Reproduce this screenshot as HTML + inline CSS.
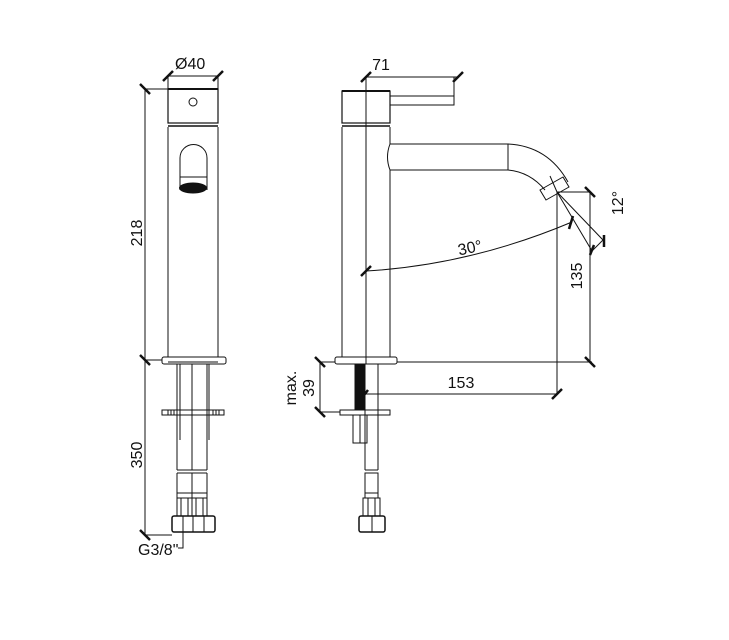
<!DOCTYPE html>
<html><head><style>
body{margin:0;background:#fff;}
svg{display:block;}
text{font-family:"Liberation Sans",sans-serif;font-size:16px;fill:#111;}
</style></head><body>
<svg width="729" height="640" viewBox="0 0 729 640" xmlns="http://www.w3.org/2000/svg">
<g fill="none" stroke="#111" stroke-width="1">
<rect x="168" y="89" width="50" height="34" stroke-width="1.2"/>
<line x1="168" y1="89" x2="218" y2="89" stroke-width="2"/>
<line x1="168" y1="126" x2="218" y2="126" stroke-width="1.5"/>
<line x1="168" y1="127" x2="168" y2="357"/>
<line x1="218" y1="127" x2="218" y2="357"/>
<circle cx="193" cy="102" r="4"/>
<path d="M180,190 V158 A13.5,13.5 0 0 1 207,158 V190"/>
<line x1="180" y1="177" x2="207" y2="177"/>
<ellipse cx="193" cy="188" rx="13.5" ry="5" fill="#111"/>
<rect x="162" y="357" width="64" height="7" rx="2"/>
<line x1="168" y1="362" x2="218" y2="362"/>
<line x1="177" y1="364" x2="177" y2="470"/><line x1="192" y1="364" x2="192" y2="470"/><line x1="207" y1="364" x2="207" y2="470"/>
<line x1="177" y1="470" x2="207" y2="470"/>
<line x1="177" y1="473" x2="207" y2="473"/>
<line x1="177" y1="473" x2="177" y2="493"/><line x1="192" y1="473" x2="192" y2="493"/><line x1="207" y1="473" x2="207" y2="493"/>
<line x1="180" y1="364" x2="180" y2="440"/><line x1="209" y1="364" x2="209" y2="440"/>
<rect x="162" y="410" width="62" height="5"/>
<line x1="168" y1="410" x2="168" y2="415"/><line x1="171" y1="410" x2="171" y2="415"/><line x1="174" y1="410" x2="174" y2="415"/>
<line x1="213" y1="410" x2="213" y2="415"/><line x1="216" y1="410" x2="216" y2="415"/><line x1="219" y1="410" x2="219" y2="415"/>
<rect x="177" y="493" width="15" height="5"/><rect x="192" y="493" width="15" height="5"/>
<rect x="177" y="498" width="15" height="18"/><rect x="192" y="498" width="15" height="18"/>
<line x1="181" y1="498" x2="181" y2="516"/><line x1="188" y1="498" x2="188" y2="516"/>
<line x1="196" y1="498" x2="196" y2="516"/><line x1="203" y1="498" x2="203" y2="516"/>
<rect x="172" y="516" width="43" height="16" rx="2" stroke-width="1.5"/>
<line x1="183" y1="516" x2="183" y2="532"/><line x1="193" y1="516" x2="193" y2="532"/><line x1="204" y1="516" x2="204" y2="532"/>
<line x1="168" y1="76" x2="218" y2="76"/>
<line x1="168" y1="76" x2="168" y2="89"/><line x1="218" y1="76" x2="218" y2="89"/>
<line x1="145" y1="89" x2="168" y2="89"/>
<line x1="145" y1="89" x2="145" y2="535"/>
<line x1="145" y1="360" x2="162" y2="360"/>
<line x1="145" y1="535" x2="172" y2="535"/>
<polyline points="183,532 183,548 178,548"/>
<rect x="342" y="91" width="48" height="32" stroke-width="1.2"/>
<line x1="342" y1="91" x2="390" y2="91" stroke-width="2"/>
<line x1="342" y1="126" x2="390" y2="126" stroke-width="1.5"/>
<line x1="342" y1="127" x2="342" y2="357"/>
<line x1="390" y1="127" x2="390" y2="144"/>
<line x1="390" y1="170" x2="390" y2="357"/>
<rect x="390" y="96" width="64" height="9"/>
<path d="M390,144 Q385,157 390,170"/>
<line x1="390" y1="144" x2="508" y2="144"/>
<line x1="390" y1="170" x2="508" y2="170"/>
<line x1="508" y1="144" x2="508" y2="170"/>
<path d="M508,144 Q548,146 568,182"/>
<path d="M508,170 Q530,172 545,190"/>
<polygon points="540,190 563,177 569,187 546,200"/>
<line x1="550" y1="176" x2="557" y2="192"/>
<rect x="335" y="357" width="62" height="7" rx="2"/>
<line x1="366" y1="77" x2="366" y2="364"/>
<rect x="355" y="364" width="10" height="46" fill="#111"/>
<line x1="378" y1="364" x2="378" y2="470"/>
<line x1="365" y1="410" x2="365" y2="470"/>
<rect x="340" y="410" width="50" height="5"/>
<rect x="353" y="415" width="14" height="28"/>
<line x1="360" y1="415" x2="360" y2="443"/>
<line x1="365" y1="470" x2="378" y2="470"/>
<rect x="365" y="473" width="13" height="20"/>
<rect x="365" y="493" width="13" height="5"/>
<rect x="363" y="498" width="17" height="18"/>
<line x1="368" y1="498" x2="368" y2="516"/><line x1="375" y1="498" x2="375" y2="516"/>
<rect x="359" y="516" width="26" height="16" rx="2" stroke-width="1.5"/>
<line x1="372" y1="516" x2="372" y2="532"/>
<line x1="366" y1="77" x2="458" y2="77"/>
<line x1="454" y1="77" x2="454" y2="96"/>
<path d="M366,271 Q470,265 572,222"/>
<line x1="557" y1="192" x2="557" y2="395"/>
<line x1="557" y1="192" x2="590" y2="192"/>
<line x1="590" y1="192" x2="590" y2="362"/>
<line x1="397" y1="362" x2="592" y2="362"/>
<line x1="557" y1="192" x2="592" y2="251"/>
<line x1="557" y1="192" x2="603" y2="240"/>
<line x1="592" y1="251" x2="603" y2="240"/>
<line x1="366" y1="394" x2="557" y2="394"/>
<line x1="320" y1="362" x2="335" y2="362"/>
<line x1="320" y1="412" x2="340" y2="412"/>
<line x1="320" y1="362" x2="320" y2="412"/>
</g>
<g stroke="#111" stroke-width="2.5">
<line x1="163" y1="81" x2="173" y2="71"/><line x1="213" y1="81" x2="223" y2="71"/>
<line x1="140" y1="84" x2="150" y2="94"/><line x1="140" y1="355" x2="150" y2="365"/>
<line x1="140" y1="530" x2="150" y2="540"/>
<line x1="361" y1="82" x2="371" y2="72"/><line x1="453" y1="82" x2="463" y2="72"/>
<line x1="361" y1="276" x2="371" y2="266"/><line x1="569" y1="229" x2="573" y2="216"/>
<line x1="585" y1="187" x2="595" y2="197"/><line x1="585" y1="357" x2="595" y2="367"/>
<line x1="590" y1="255" x2="594" y2="245"/><line x1="604" y1="235" x2="604" y2="247"/>
<line x1="552" y1="399" x2="562" y2="389"/><line x1="361" y1="399" x2="368" y2="390"/>
<line x1="315" y1="357" x2="325" y2="367"/><line x1="315" y1="407" x2="325" y2="417"/>
</g>
<text x="175" y="69">Ø40</text>
<text x="0" y="0" transform="translate(142,233) rotate(-90)" text-anchor="middle">218</text>
<text x="0" y="0" transform="translate(142,455) rotate(-90)" text-anchor="middle">350</text>
<text x="138" y="555">G3/8"</text>
<text x="381" y="70" text-anchor="middle">71</text>
<text x="0" y="0" transform="translate(471,253) rotate(-12)" text-anchor="middle">30°</text>
<text x="0" y="0" transform="translate(623,203) rotate(-90)" text-anchor="middle">12°</text>
<text x="0" y="0" transform="translate(582,276) rotate(-90)" text-anchor="middle">135</text>
<text x="461" y="388" text-anchor="middle">153</text>
<text x="0" y="0" transform="translate(296,388) rotate(-90)" text-anchor="middle">max.</text>
<text x="0" y="0" transform="translate(314,388) rotate(-90)" text-anchor="middle">39</text>
</svg>
</body></html>
